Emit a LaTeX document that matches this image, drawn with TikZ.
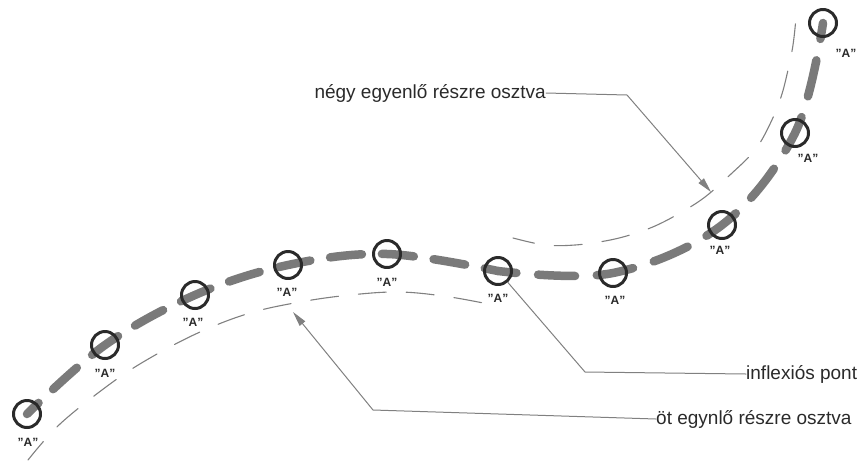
\documentclass[tikz,border=0pt]{standalone}
\usepackage{fontspec}
\setmainfont{Liberation Sans}
\usepackage{xcolor}
\usepackage{tikz}
\usetikzlibrary{arrows.meta}
\definecolor{curvegray}{HTML}{7A7A7A}
\definecolor{leadgray}{HTML}{808080}
\definecolor{inkgray}{HTML}{2A2A2A}

\tikzset{
  ring/.style={circle,draw=inkgray,line width=3pt,minimum size=27pt,inner sep=0pt},
  albl/.style={font=\fontsize{12}{13}\selectfont\bfseries,text=inkgray,inner sep=1pt},
  txt/.style={font=\fontsize{19}{22}\selectfont,text=inkgray,inner sep=0pt},
  lead/.style={draw=leadgray,line width=1pt},
  guide/.style={draw=leadgray,line width=1.1pt,dash pattern=on 28pt off 20pt},
  bigdash/.style={draw=curvegray,line width=8.5pt,line cap=round}
}

\begin{document}
\begin{tikzpicture}[line cap=round,line join=round,x=1pt,y=-1pt]
\useasboundingbox (0,0) rectangle (866,461);
% division points
\coordinate (c1) at (27,414);
\coordinate (c2) at (105,345);
\coordinate (c3) at (195,295);
\coordinate (c4) at (288,265);
\coordinate (c5) at (387,254);
\coordinate (c6) at (498,271);
\coordinate (c7) at (613,273);
\coordinate (c8) at (722,225);
\coordinate (c9) at (795,133);
\coordinate (c10) at (823,23);
% offset guides
\draw[guide,dash phase=4pt] plot[smooth,tension=0.6] coordinates {(28,460) (60,424) (110,384) (150,358) (200,332) (250,313) (300,302) (350,295) (400,292) (450,297) (498,306)};
\draw[guide,dash phase=6pt] plot[smooth,tension=0.6] coordinates {(513,238) (545,245) (575,245) (605,241) (630,235) (655,226) (680,213) (705,197) (731,174) (755,150) (770,124) (781,97) (788,70) (793,45) (796,18)};
% the curve
\draw[bigdash,dash pattern=on 32pt off 20pt,dash phase=16pt] plot[smooth,tension=0.6] coordinates {(c1) (c2) (c3) (c4) (c5) (c6)};
\draw[bigdash,dash pattern=on 37pt off 21.75pt,dash phase=18.5pt] plot[smooth,tension=0.6] coordinates {(c6) (c7) (c8) (c9) (c10)};
\foreach \i in {1,...,10}
  \node[ring] (p\i) at (c\i) {};
% "A" labels
\node[albl] (a1) at (28,442) {"A"};
\node[albl] (a2) at (105,373) {"A"};
\node[albl] (a3) at (193,322) {"A"};
\node[albl] (a4) at (287,292) {"A"};
\node[albl] (a5) at (387,282) {"A"};
\node[albl] (a6) at (498,298) {"A"};
\node[albl] (a7) at (615,300) {"A"};
\node[albl] (a8) at (720,250) {"A"};
\node[albl] (a9) at (808,158) {"A"};
\node[albl] (a10) at (846,53) {"A"};
% callouts
\node[txt,anchor=east] (negy) at (546,93) {négy egyenlő részre osztva};
\node[txt,anchor=west] (infl) at (746,374) {inflexiós pont};
\node[txt,anchor=west] (ot) at (656,419) {öt egynlő részre osztva};
\coordinate (k1) at (627,95);
\coordinate (t1) at (711,192);
\coordinate (k2) at (585,372);
\coordinate (k3) at (373,410);
\coordinate (t3) at (293,312);
\draw[lead,-{Triangle[length=15pt,width=7pt]}] (negy.east) -- (k1) -- (t1);
\draw[lead] (infl.west) -- (k2) -- (p6);
\draw[lead,-{Triangle[length=15pt,width=7pt]}] (ot.west) -- (k3) -- (t3);
\end{tikzpicture}
\end{document}
